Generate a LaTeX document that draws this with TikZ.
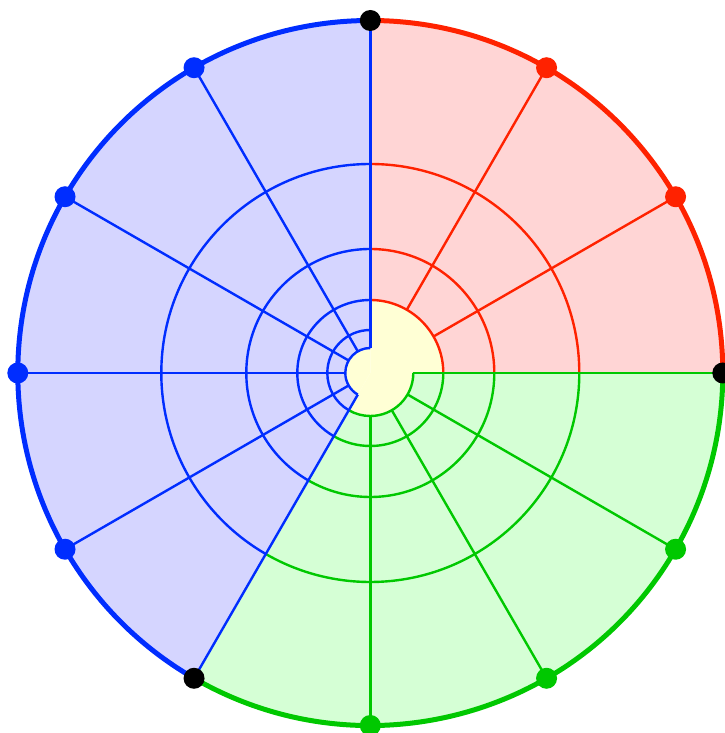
\documentclass[tikz,border=0pt]{standalone}
\definecolor{cred}{RGB}{255,34,0}
\definecolor{cgreen}{RGB}{0,200,0}
\definecolor{cblue}{RGB}{0,45,255}
\definecolor{fred}{RGB}{255,213,213}
\definecolor{fgreen}{RGB}{213,255,213}
\definecolor{fblue}{RGB}{213,213,255}
\definecolor{fyellow}{RGB}{255,255,213}
\tikzset{
  thinline/.style={line width=2.4pt},
  outerline/.style={line width=5pt},
  dotmark/.style={radius=10.5pt}
}
\begin{document}
\begin{tikzpicture}[x=1pt,y=1pt]
\useasboundingbox (0,0) rectangle (724,733);
\begin{scope}[shift={(370.3,360)}]
\def\R{352.5}
% fills
\fill[fred] (0:73) arc[start angle=0,end angle=90,radius=73] -- (90:\R) arc[start angle=90,end angle=0,radius=\R] -- cycle;
\fill[fgreen] (0:43) arc[start angle=0,end angle=-120,radius=43] -- (-120:\R) arc[start angle=-120,end angle=0,radius=\R] -- cycle;
\fill[fblue] (90:25) arc[start angle=90,end angle=240,radius=25] -- (240:\R) arc[start angle=240,end angle=90,radius=\R] -- cycle;
\fill[fyellow] (0,0) -- (0:73) arc[start angle=0,end angle=90,radius=73] -- cycle;
\fill[fyellow] (0,0) -- (0:43) arc[start angle=0,end angle=-120,radius=43] -- cycle;
\fill[fyellow] (0,0) -- (90:25) arc[start angle=90,end angle=240,radius=25] -- cycle;
% red sector
\foreach \r in {209,124,73}
  \draw[cred,thinline] (0:\r) arc[start angle=0,end angle=90,radius=\r];
\foreach \a in {30,60}
  \draw[cred,thinline] (\a:73) -- (\a:\R);
% green sector
\foreach \r in {209,124,73,43}
  \draw[cgreen,thinline] (0:\r) arc[start angle=0,end angle=-120,radius=\r];
\foreach \a in {0,-30,-60,-90}
  \draw[cgreen,thinline] (\a:43) -- (\a:\R);
% blue sector
\foreach \r in {209,124,73,43,25}
  \draw[cblue,thinline] (90:\r) arc[start angle=90,end angle=240,radius=\r];
\foreach \a in {90,120,150,180,210,240}
  \draw[cblue,thinline] (\a:25) -- (\a:\R);
% outer arcs
\draw[cred,outerline] (0:\R) arc[start angle=0,end angle=90,radius=\R];
\draw[cgreen,outerline] (-120:\R) arc[start angle=-120,end angle=0,radius=\R];
\draw[cblue,outerline] (90:\R) arc[start angle=90,end angle=240,radius=\R];
% dots
\foreach \a in {30,60} \fill[cred] (\a:\R) circle[dotmark];
\foreach \a in {-30,-60,-90} \fill[cgreen] (\a:\R) circle[dotmark];
\foreach \a in {120,150,180,210} \fill[cblue] (\a:\R) circle[dotmark];
\foreach \a in {90,0,240} \fill[black] (\a:\R) circle[dotmark];
\end{scope}
\end{tikzpicture}
\end{document}
